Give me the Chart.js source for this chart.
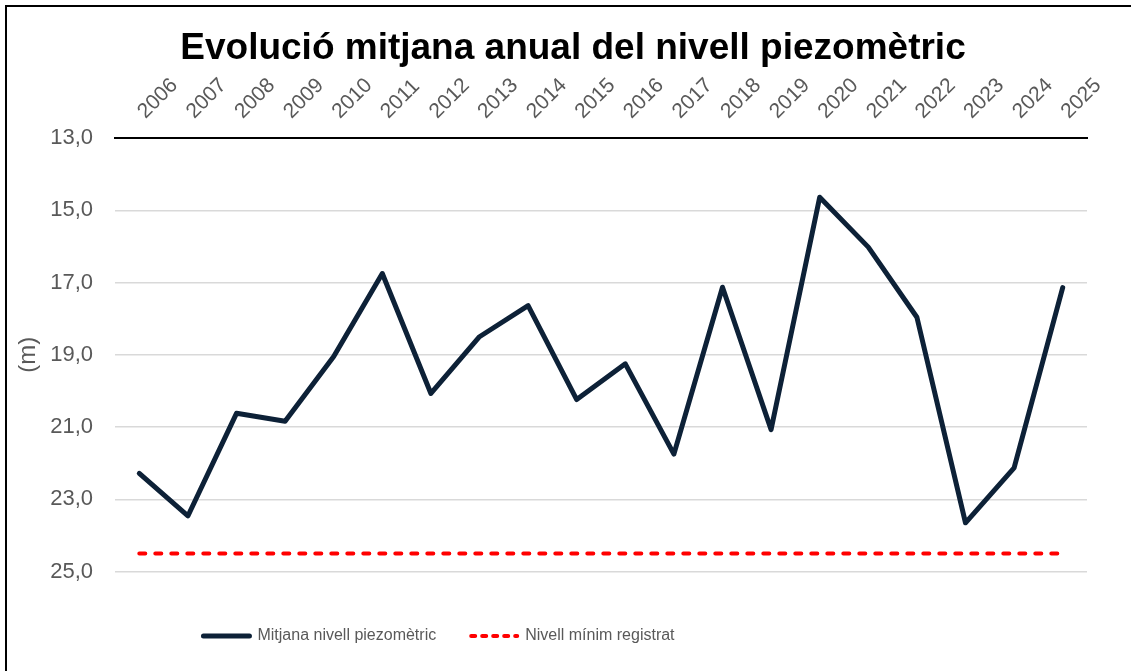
<!DOCTYPE html>
<html>
<head>
<meta charset="utf-8">
<script src="https://cdn.jsdelivr.net/npm/chart.js@4.4.1/dist/chart.umd.min.js"></script>
<style>
  html, body { margin: 0; padding: 0; background: #fff; overflow: hidden; }
  #wrap { position: relative; width: 1131px; height: 671px; overflow: hidden; }
  #frame { position: absolute; left: 5px; top: 5px; width: 2000px; height: 2000px; border: 2px solid #000; box-sizing: border-box; }
  #c { position: absolute; left: 0; top: 0; }
</style>
</head>
<body>
<div id="wrap">
  <div id="frame"></div>
  <canvas id="c" width="1131" height="671"></canvas>
</div>
<script>
const years = ['2006','2007','2008','2009','2010','2011','2012','2013','2014','2015','2016','2017','2018','2019','2020','2021','2022','2023','2024','2025'];
const mitjana = [22.28, 23.46, 20.62, 20.84, 19.05, 16.75, 20.07, 18.50, 17.64, 20.24, 19.25, 21.75, 17.13, 21.07, 14.64, 16.02, 17.96, 23.65, 22.13, 17.14];
const minim = [24.5, 24.5, 24.5, 24.5, 24.5, 24.5, 24.5, 24.5, 24.5, 24.5, 24.5, 24.5, 24.5, 24.5, 24.5, 24.5, 24.5, 24.5, 24.5, 24.5];
const seriesNames = ['Mitjana nivell piezomètric', 'Nivell mínim registrat'];
const titleText = 'Evolució mitjana anual del nivell piezomètric';
const yTitle = '(m)';

const FONT = "'Liberation Sans', Arial, sans-serif";
const GREY = '#595959';

const blockShift = {
  id: 'blockShift',
  beforeDraw(chart) {
    const l = chart.legend;
    if (l) { l.left = 0; l.right = 878; }
    const t = chart.titleBlock;
    if (t) { t.left = 15; t.right = 1131; }
  }
};

new Chart(document.getElementById('c'), {
  type: 'line',
  data: {
    labels: years,
    datasets: [
      {
        label: seriesNames[0],
        data: mitjana,
        borderColor: '#0d2137',
        backgroundColor: '#0d2137',
        borderWidth: 5,
        borderJoinStyle: 'round',
        borderCapStyle: 'round',
        pointRadius: 0,
        tension: 0,
        legendDash: []
      },
      {
        label: seriesNames[1],
        data: minim,
        borderColor: '#ff0000',
        backgroundColor: '#ff0000',
        borderWidth: 4,
        borderDash: [6, 10],
        borderCapStyle: 'round',
        pointRadius: 0,
        tension: 0,
        legendDash: [4, 7]
      }
    ]
  },
  options: {
    responsive: false,
    animation: false,
    devicePixelRatio: 1,
    layout: { padding: { left: 8, right: 44, top: 0, bottom: 17 } },
    plugins: {
      title: {
        display: true,
        text: titleText,
        color: '#000',
        font: { family: FONT, size: 37, weight: 'bold' },
        padding: { top: 27, bottom: 0 }
      },
      legend: {
        position: 'bottom',
        title: { display: true, text: ' ', font: { size: 12 }, padding: { top: 7, bottom: 0 } },
        labels: {
          usePointStyle: true,
          pointStyleWidth: 46,
          padding: 35,
          color: GREY,
          font: { family: FONT, size: 16 },
          generateLabels(chart) {
            return chart.data.datasets.map((ds, i) => ({
              text: ds.label,
              fillStyle: ds.borderColor,
              strokeStyle: ds.borderColor,
              lineWidth: ds.borderWidth,
              lineDash: ds.legendDash,
              lineCap: 'round',
              pointStyle: 'line',
              fontColor: GREY,
              hidden: false,
              datasetIndex: i
            }));
          }
        }
      },
      tooltip: { enabled: false }
    },
    scales: {
      x: {
        position: 'top',
        offset: true,
        grid: { display: false, drawTicks: false },
        border: { display: true, color: '#000', width: 2 },
        ticks: {
          color: GREY,
          font: { family: FONT, size: 21 },
          minRotation: 45,
          maxRotation: 45,
          autoSkip: false,
          padding: 14,
          labelOffset: 20
        },
        afterFit(scale) { scale.height = 138 - 71.4; }
      },
      y: {
        reverse: true,
        min: 13,
        max: 25,
        grid: { color: '#d9d9d9', lineWidth: 1.5, drawTicks: false },
        border: { display: false },
        ticks: {
          stepSize: 2,
          color: GREY,
          font: { family: FONT, size: 22 },
          padding: 22,
          callback: (v) => v.toFixed(1).replace('.', ',')
        },
        title: {
          display: true,
          text: yTitle,
          color: GREY,
          font: { family: FONT, size: 24 },
          padding: { top: 6, bottom: 0 }
        },
        afterFit(scale) { scale.width = 107; }
      }
    }
  },
  plugins: [blockShift]
});
</script>
</body>
</html>
